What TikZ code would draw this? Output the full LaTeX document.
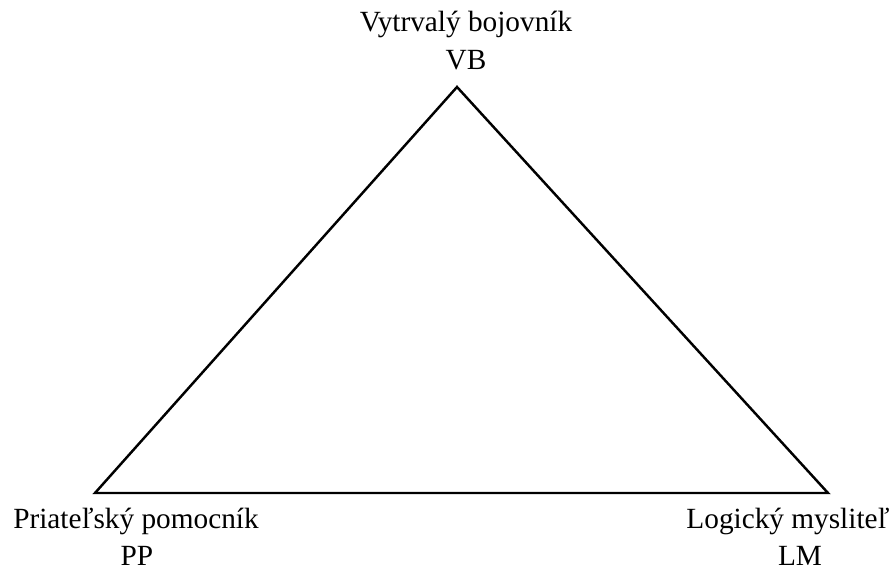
\documentclass[tikz,border=0pt]{standalone}
\usepackage{fontspec}
\setmainfont{Liberation Serif}
\usepackage{tikz}

\begin{document}
\begin{tikzpicture}[
      x=0.03cm, y=-0.03cm,
      edge/.style={line width=2.1pt, line join=miter},
      role/.style={anchor=base, inner sep=0pt, font=\fontsize{25}{29}\selectfont},
      abbr/.style={anchor=base, inner sep=0pt, font=\fontsize{25}{29}\selectfont}
    ]
      \useasboundingbox (0,0) rectangle (893,571);

      \coordinate (vb) at (457,87);
      \coordinate (pp) at (95,493);
      \coordinate (lm) at (828,493);

      \draw[edge] (vb) -- (lm) -- (pp) -- cycle;

      \node[role] (vbname) at (466,32) {Vytrvalý bojovník};
      \node[abbr] (vbabbr) at (466,70) {VB};
      \node[role] (ppname) at (136,528) {Priateľský pomocník};
      \node[abbr] (ppabbr) at (137,565) {PP};
      \node[role] (lmname) at (788,528) {Logický mysliteľ};
      \node[abbr] (lmabbr) at (800,565) {LM};
    \end{tikzpicture}
\end{document}
